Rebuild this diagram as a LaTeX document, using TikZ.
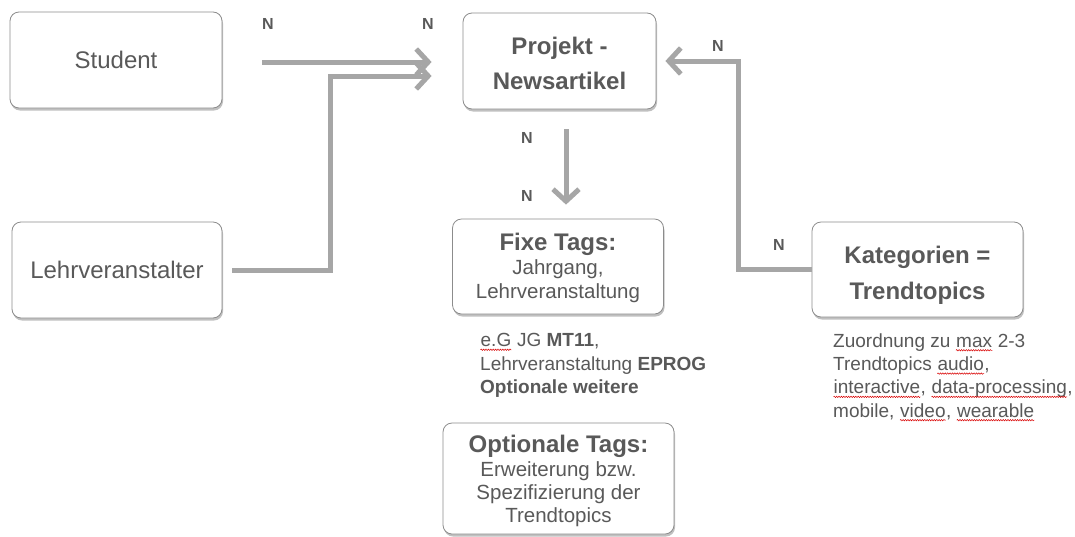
\documentclass[tikz,border=0pt]{standalone}
\usepackage{fontspec}
\setmainfont{Liberation Sans}
\usetikzlibrary{arrows.meta,shadows,calc,decorations.pathmorphing}
\definecolor{txt}{HTML}{595959}
\definecolor{arr}{HTML}{A6A6A6}
\definecolor{bord}{HTML}{8C8C8C}
\newcommand\sq[1]{\tikz[baseline=(w.base)]{\node[inner sep=0pt,text=txt](w){#1};\draw[red!85!black, line width=0.5pt, decorate, decoration={snake,amplitude=0.7pt,segment length=2.4pt}] ([yshift=-3pt]w.base west) -- ([yshift=-3pt]w.base east);}}
\tikzset{
  box/.style={draw=bord, line width=0.8pt, rounded corners=9pt, fill=white,
    drop shadow={shadow xshift=1pt, shadow yshift=-2.5pt, opacity=0.35, fill=black!70},
    text=txt, align=center, inner sep=0pt},
  btext/.style={text=txt, align=center, inner sep=0pt, anchor=north},
  conn/.style={draw=arr, line width=5pt, -{Straight Barb[length=12pt,width=26pt]}},
  nlab/.style={font=\bfseries\fontsize{16}{18}\selectfont, text=txt, inner sep=0pt},
  note/.style={text=txt, align=left, inner sep=0pt, anchor=north west, font=\fontsize{19}{23.3}\selectfont},
}
\begin{document}
\begin{tikzpicture}[x=1pt,y=-1pt]
\useasboundingbox (0,0) rectangle (1075,536);
\fill[white] (0,0) rectangle (1075,536);
% boxes
\node[box, minimum width=212pt, minimum height=96pt, font=\fontsize{24}{28}\selectfont] (stud) at (116,60) {Student};
\node[box, minimum width=210pt, minimum height=96pt, font=\fontsize{24}{28}\selectfont] (lehr) at (117,270) {Lehrveranstalter};
\node[box, minimum width=193pt, minimum height=96pt] (proj) at (559.5,61) {};
\node[btext, font=\bfseries\fontsize{24}{35}\selectfont] (projt) at (559.5,36.8) {Projekt -\\Newsartikel};
\node[box, minimum width=211pt, minimum height=95pt] (fixe) at (558,266.5) {};
\node[btext, font=\fontsize{20.5}{24}\selectfont] (fixet) at (558,232.8) {{\bfseries\fontsize{24}{24}\selectfont Fixe Tags:}\\Jahrgang,\\Lehrveranstaltung};
\node[box, minimum width=211pt, minimum height=95pt] (kat) at (917.5,269.5) {};
\node[btext, font=\bfseries\fontsize{24}{36}\selectfont] (katt) at (917.5,245.8) {Kategorien =\\Trendtopics};
\node[box, minimum width=231pt, minimum height=111pt] (opt) at (558.5,478.5) {};
\node[btext, font=\fontsize{20.5}{23.3}\selectfont] (optt) at (558.5,435.3) {{\bfseries\fontsize{24}{24}\selectfont Optionale Tags:}\\Erweiterung bzw.\\Spezifizierung der\\Trendtopics};
% notes
\node[note] (fnote) at (480,333.3) {\sq{e.G} JG \textbf{MT11},\\Lehrveranstaltung \textbf{EPROG}\\\textbf{Optionale weitere}};
\node[note] (knote) at (833,333.3) {Zuordnung zu \sq{max} 2-3\\Trendtopics \sq{audio},\\\sq{interactive}, \sq{data-processing},\\mobile, \sq{video}, \sq{wearable}};
% connectors
\draw[conn] ($(stud.east)+(40,2)$) -- ($(proj.west)+(-31,1)$);
\draw[conn] ($(lehr.east)+(10,0)$) -| ($(proj.west)+(-132,15)$) -- ($(proj.west)+(-31,15)$);
\draw[conn] ($(proj.south)+(6.5,20)$) -- ($(fixe.north)+(8,-14)$);
\draw[conn] (kat.west) -| ($(proj.east)+(82,0)$) -- ($(proj.east)+(9,0)$);
% N labels
\node[nlab] (n1) at (268,24) {N};
\node[nlab] (n2) at (428,24) {N};
\node[nlab] (n3) at (718,46) {N};
\node[nlab] (n4) at (527,138) {N};
\node[nlab] (n5) at (527,196) {N};
\node[nlab] (n6) at (779,245) {N};
\end{tikzpicture}
\end{document}
